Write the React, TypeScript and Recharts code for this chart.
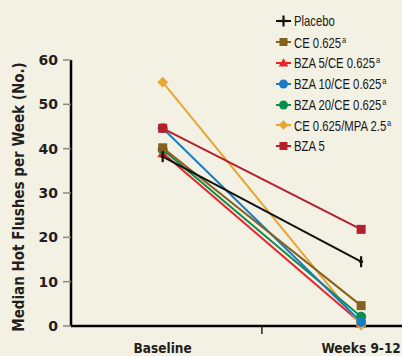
import React from 'react';
import { LineChart, Line, XAxis, YAxis, Legend } from 'recharts';

const categories = ['Baseline', 'Weeks 9-12'];
const xPos = [0, 1];
const placebo = [38.2, 14.5];
const ce = [40.2, 4.6];
const bza5ce = [39, 0.6];
const bza10ce = [44.6, 0.9];
const bza20ce = [39.8, 2.1];
const ceMpa = [55, 0.2];
const bza5 = [44.6, 21.8];
const yTicks = [0, 10, 20, 30, 40, 50, 60];

const data = categories.map((c, i) => ({
  name: c,
  x: xPos[i],
  placebo: placebo[i],
  ce: ce[i],
  bza5ce: bza5ce[i],
  bza10ce: bza10ce[i],
  bza20ce: bza20ce[i],
  ceMpa: ceMpa[i],
  bza5: bza5[i],
}));

type Shape = 'plus' | 'square' | 'triangle' | 'circle' | 'diamond';

const series: { key: string; label: string; sup: boolean; color: string; shape: Shape }[] = [
  { key: 'placebo', label: 'Placebo', sup: false, color: '#111111', shape: 'plus' },
  { key: 'ce', label: 'CE 0.625', sup: true, color: '#86611e', shape: 'square' },
  { key: 'bza5ce', label: 'BZA 5/CE 0.625', sup: true, color: '#e8232b', shape: 'triangle' },
  { key: 'bza10ce', label: 'BZA 10/CE 0.625', sup: true, color: '#1a7cc1', shape: 'circle' },
  { key: 'bza20ce', label: 'BZA 20/CE 0.625', sup: true, color: '#0b8f4d', shape: 'circle' },
  { key: 'ceMpa', label: 'CE 0.625/MPA 2.5', sup: true, color: '#e8a530', shape: 'diamond' },
  { key: 'bza5', label: 'BZA 5', sup: false, color: '#b5202d', shape: 'square' },
];

// draw order: later ones sit on top
const drawOrder = ['bza5ce', 'ceMpa', 'bza20ce', 'bza10ce', 'ce', 'placebo', 'bza5'];

const marker = (shape: Shape, color: string, cx: number, cy: number, s: number, hw = 0.5) => {
  switch (shape) {
    case 'plus':
      return (
        <g>
          <line x1={cx} x2={cx} y1={cy - s * 0.55} y2={cy + s * 0.55} stroke={color} strokeWidth={2.2} />
          <line x1={cx - s * hw} x2={cx + s * hw} y1={cy} y2={cy} stroke={color} strokeWidth={2.2} />
        </g>
      );
    case 'square':
      return <rect x={cx - s / 2} y={cy - s / 2} width={s} height={s} fill={color} />;
    case 'triangle':
      return (
        <polygon
          points={`${cx},${cy - s * 0.6} ${cx + s * 0.6},${cy + s * 0.45} ${cx - s * 0.6},${cy + s * 0.45}`}
          fill={color}
        />
      );
    case 'circle':
      return <circle cx={cx} cy={cy} r={s / 2 + 0.5} fill={color} />;
    case 'diamond':
      return (
        <polygon
          points={`${cx},${cy - s * 0.6} ${cx + s * 0.6},${cy} ${cx},${cy + s * 0.6} ${cx - s * 0.6},${cy}`}
          fill={color}
        />
      );
  }
  return null;
};

const makeDot = (shape: Shape, color: string) => (props: any) => {
  const { cx, cy, index } = props;
  if (cx == null || cy == null) return <g key={index} />;
  return <g key={index}>{marker(shape, color, cx, cy, shape === 'plus' ? 10 : 9, 0.2)}</g>;
};

const XTick = (props: any) => {
  const { x, y, payload } = props;
  if (payload.value === 0.5) {
    return <line x1={x} x2={x} y1={y + 1} y2={y + 8} stroke="#222" strokeWidth={1.5} />;
  }
  const label = categories[xPos.indexOf(payload.value)];
  return (
    <text
      x={x}
      y={y + 27}
      textAnchor="middle"
      fontFamily="'DejaVu Sans Condensed', 'DejaVu Sans', sans-serif"
      fontWeight="bold"
      fontSize={13.5}
      fill="#231f20"
    >
      {label}
    </text>
  );
};

const renderLegend = () => (
  <div style={{ fontFamily: "'Liberation Sans', Arial, sans-serif", fontSize: 14.5, color: '#1a1718', whiteSpace: 'nowrap' }}>
    {series.map((s) => (
      <div key={s.key} style={{ height: 20.8, display: 'flex', alignItems: 'center' }}>
        <svg width={19} height={14} style={{ flex: 'none' }}>
          <line x1={1} x2={16} y1={7} y2={7} stroke={s.color} strokeWidth={2} />
          {marker(s.shape, s.color, 8.5, 7, s.shape === 'plus' ? 10 : 8)}
        </svg>
        <span style={{ display: 'inline-block', transform: 'scaleX(0.78)', transformOrigin: 'left center' }}>
          {s.label}
          {s.sup && <sup style={{ fontSize: 9.5, verticalAlign: 5, marginLeft: 1 }}>a</sup>}
        </span>
      </div>
    ))}
  </div>
);

export default function App() {
  return (
    <div style={{ position: 'absolute', left: 0, top: 0, width: 402, height: 356, background: '#f3f0e4', overflow: 'hidden' }}>
      <LineChart width={402} height={356} data={data} margin={{ top: 60, right: 0, bottom: 0, left: 0 }}>
        <XAxis
          dataKey="x"
          type="number"
          domain={[-0.462, 1.206]}
          ticks={[0, 0.5, 1]}
          tick={<XTick />}
          tickLine={false}
          tickSize={0}
          tickMargin={0}
          height={30}
          axisLine={{ stroke: '#000', strokeWidth: 2.5 }}
          allowDataOverflow
        />
        <YAxis
          domain={[0, 60]}
          ticks={yTicks}
          width={71}
          tickSize={8}
          tickMargin={5}
          axisLine={{ stroke: '#000', strokeWidth: 2.5 }}
          tickLine={{ stroke: '#8a8a8a', strokeWidth: 1.5 }}
          tick={{ fill: '#231f20', fontSize: 14, fontWeight: 'bold', fontFamily: "'DejaVu Sans', sans-serif" }}
          label={{
            value: 'Median Hot Flushes per Week (No.)',
            angle: -90,
            position: 'insideLeft',
            dx: 14,
            dy: 4,
            style: {
              textAnchor: 'middle',
              fill: '#231f20',
              fontSize: 15,
              fontWeight: 'bold',
              fontFamily: "'DejaVu Sans Condensed', 'DejaVu Sans', sans-serif",
            },
          }}
        />
        <Legend
          layout="vertical"
          align="center"
          verticalAlign="middle"
          content={renderLegend}
          wrapperStyle={{ position: 'absolute', left: 275, top: 11, width: 127 }}
        />
        {drawOrder.map((k) => {
          const s = series.find((d) => d.key === k)!;
          return (
            <Line
              key={k}
              dataKey={k}
              stroke={s.color}
              strokeWidth={2}
              dot={makeDot(s.shape, s.color)}
              activeDot={false}
              isAnimationActive={false}
            />
          );
        })}
      </LineChart>
    </div>
  );
}
